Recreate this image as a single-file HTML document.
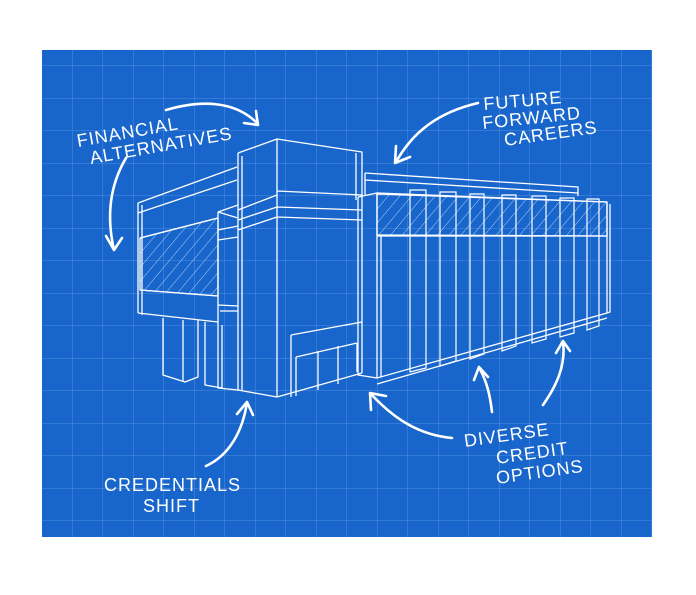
<!DOCTYPE html>
<html><head><meta charset="utf-8"><style>
html,body{margin:0;padding:0;background:#fff;}
svg{display:block}
text{font-family:"Liberation Sans",sans-serif;fill:#fff;font-size:18px;letter-spacing:1px;}
</style></head><body>
<svg width="696" height="595" viewBox="0 0 696 595" xmlns="http://www.w3.org/2000/svg">
<defs>
<pattern id="g" x="42" y="33.5" width="30.5" height="32.5" patternUnits="userSpaceOnUse">
<path d="M30.5 0V32.5M0 32.5H30.5" stroke="#4d8ee0" stroke-width="1" fill="none"/>
</pattern>
<pattern id="h" width="9" height="9" patternUnits="userSpaceOnUse" patternTransform="rotate(40)">
<line x1="0" y1="0" x2="0" y2="9" stroke="#d8e6fa" stroke-width="0.8"/>
</pattern>
</defs>
<rect x="42" y="50" width="610" height="487" fill="#1866cc"/>
<rect x="42" y="50" width="610" height="487" fill="url(#g)"/>
<g fill="none" stroke="#fff" stroke-width="1.3" stroke-linejoin="round">
<polygon points="140,238 218,218 218,296 140,290" fill="url(#h)"/>
<path d="M138,203 L237,167 M138,213 L237,180 M138,203 L138,313 M142,205 L142,315 M138,313 L218,322 M140,290 L218,296 M140,238 L218,218"/>
<path d="M163,318 V375 L185,382 L198,377 V320 M183,320 V382 M205,322 V385 L222,388 M222,325 V388"/>
<path d="M218,212 L238,205 M218,212 L238,218 M218,212 V388 L238,390 M218,230 L238,226 M218,240 L238,237 M218,305 L238,306 M220,311 L238,311"/>
<path d="M238,153 L277,139 L362,152 L362,373 M238,153 V390 L277,397 M277,139 V397 M242,156 V391 M277,397 L362,373 M356,153 V200 M277,191 L362,195 M277,207 L362,210 M277,217 L362,220 M238,210 L277,195 M238,220 L277,207 M238,230 L277,217"/>
<path d="M291,335 L362,322 M291,335 V397 M296,357 L357,343 M296,357 V396 M357,343 V372 M318,351 V390 M338,346 V384"/>
<path d="M365,173 L578,187 L578,196 M365,173 V195 M365,180 L578,193"/>
<polygon points="377,194 607,202 607,236 377,235" fill="url(#h)"/>
<path d="M358,197 L377,193 L607,202 M358,197 V375 L377,378 M377,193 V378 L607,313 V202 M381,236 V377 M377,236 L607,236 M607,313 L610,312 V204 M377,384 L607,318"/>
</g>
<g fill="none" stroke="#fff" stroke-width="1.2">
<path d="M410,190 h16 v178 l-16 4z"/>
<path d="M440,192 h16 v169 l-16 5z"/>
<path d="M470,194 h14 v160 l-14 5z"/>
<path d="M502,195 h14 v151 l-14 5z"/>
<path d="M532,196 h14 v143 l-14 4z"/>
<path d="M560,198 h14 v135 l-14 4z"/>
<path d="M587,199 h12 v127 l-12 4z"/>
</g>
<g fill="none" stroke="#fff" stroke-width="2.6" stroke-linecap="round" stroke-linejoin="round">
<path d="M166,110 C200,100 235,100 258,124 M244,123 L258,125 L256,111"/>
<path d="M126,158 C110,185 106,215 114,250 M106,236 L114,250 L122,238"/>
<path d="M478,103 C440,112 414,130 396,162 M396,146 L395,163 L410,157"/>
<path d="M452,438 C420,435 395,420 371,394 M371,410 L370,393 L386,396"/>
<path d="M492,412 C490,395 487,382 479,367 M474,380 L479,367 L488,377"/>
<path d="M543,405 C557,385 566,365 563,341 M556,353 L563,341 L570,351"/>
<path d="M206,466 C230,455 243,430 247,402 M237,414 L247,402 L253,415"/>
</g>
<text transform="translate(78,147) rotate(-10)">FINANCIAL</text>
<text transform="translate(91,164) rotate(-10)">ALTERNATIVES</text>
<text transform="translate(484,110) rotate(-5)">FUTURE</text>
<text transform="translate(483,129) rotate(-6)">FORWARD</text>
<text transform="translate(505,146) rotate(-8)">CAREERS</text>
<text transform="translate(465,447) rotate(-8)">DIVERSE</text>
<text transform="translate(497,464) rotate(-8)">CREDIT</text>
<text transform="translate(497,484) rotate(-8)">OPTIONS</text>
<text x="104" y="491">CREDENTIALS</text>
<text x="143" y="512">SHIFT</text>
</svg>
</body></html>
